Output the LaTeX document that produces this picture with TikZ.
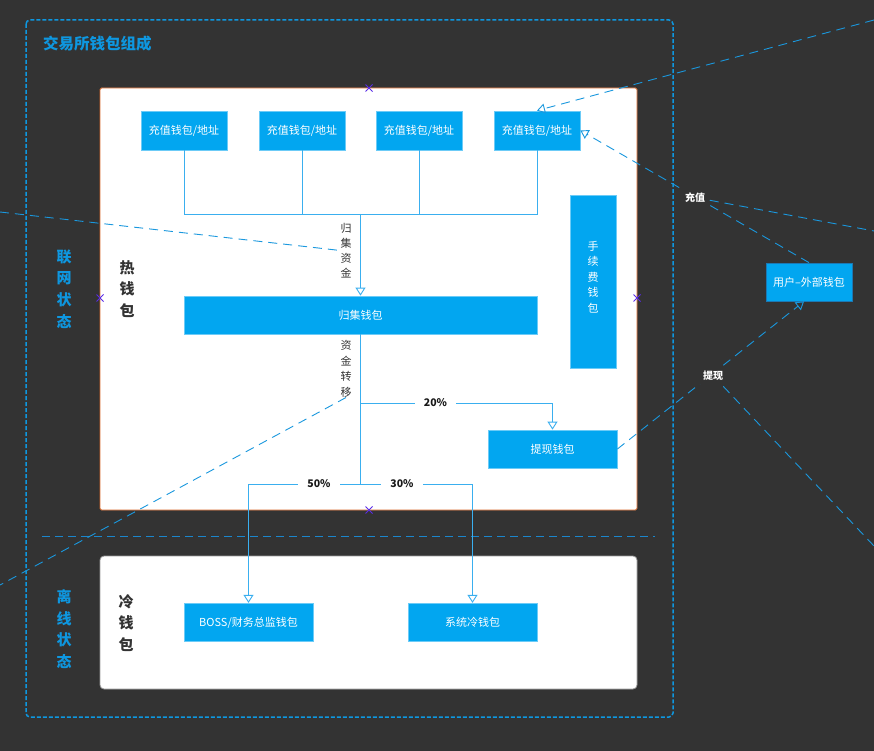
\documentclass[tikz,border=0pt]{standalone}
\usepackage{fontspec}
\setmainfont{Noto Sans CJK SC}
\usetikzlibrary{arrows.meta}
\definecolor{bg}{HTML}{333333}
\definecolor{boxfill}{HTML}{02A6F0}
\definecolor{boxline}{HTML}{6CCBF7}
\definecolor{conn}{HTML}{3AAFEF}
\definecolor{outer}{HTML}{0E97E0}
\definecolor{stray}{HTML}{1A98DE}
\definecolor{sep}{HTML}{1B86CC}
\definecolor{hotline}{HTML}{D8682A}
\definecolor{mark}{HTML}{5A2CE8}
\definecolor{darktext}{HTML}{333333}
\definecolor{userline}{HTML}{1B78B4}
\tikzset{
  wallet/.style={draw=boxline, fill=boxfill, text=white, line width=0.8pt, inner sep=0pt,
    font=\fontsize{11}{13}\selectfont},
  link/.style={draw=conn, line width=0.9pt},
  spine/.style={draw=conn, line width=1.9pt},
  opentip/.style={-{Triangle[open, length=8pt, width=10pt, line width=0.9pt]}},
  straydash/.style={draw=stray, line width=0.9pt, dash pattern=on 9pt off 6pt},
  vtext/.style={align=center, inner sep=0pt},
  pct/.style={fill=white, inner xsep=9pt, inner ysep=2pt, font=\fontsize{10.5}{12}\selectfont\bfseries, text=black!90},
  flowlbl/.style={fill=bg, text=white, inner sep=4pt, font=\fontsize{10}{12}\selectfont\bfseries},
  xmark/.style={draw=mark, line width=0.8pt}
}
\begin{document}
\begin{tikzpicture}[x=1pt,y=-1pt]
\useasboundingbox (0,0) rectangle (874,751);
\fill[bg] (0,0) rectangle (874,751);

% outer container
\draw[outer, line width=1.5pt, dash pattern=on 4pt off 2pt, rounded corners=4pt] (26,20) rectangle (673,717);
\node[anchor=west, text=outer, inner sep=0pt, font=\fontsize{15.5}{18}\selectfont\bfseries] (title) at (43,44) {交易所钱包组成};

% hot and cold wallet panels
\draw[hotline, fill=white, line width=0.8pt, rounded corners=1.5pt] (100,88) rectangle (637,510);
\draw[black!40, fill=white, line width=0.8pt, rounded corners=4pt] (100,556) rectangle (637,689);

% separator
\draw[sep, line width=1pt, dash pattern=on 8pt off 5pt] (42,536) -- (655,536);

% side labels
\node[vtext, text=outer, font=\fontsize{15}{21.7}\selectfont\bfseries] (online) at (64,289) {联\\网\\状\\态};
\node[vtext, text=outer, font=\fontsize{15}{21.7}\selectfont\bfseries] (offline) at (64,629) {离\\线\\状\\态};
\node[vtext, text=darktext, font=\fontsize{15}{21.5}\selectfont\bfseries] (hot) at (127,289) {热\\钱\\包};
\node[vtext, text=darktext, font=\fontsize{15}{21.5}\selectfont\bfseries] (cold) at (126,623) {冷\\钱\\包};

% wallets
\node[wallet, minimum width=86pt, minimum height=39pt] (b1) at (184,130.5) {充值钱包/地址};
\node[wallet, minimum width=86pt, minimum height=39pt] (b2) at (302,130.5) {充值钱包/地址};
\node[wallet, minimum width=86pt, minimum height=39pt] (b3) at (419,130.5) {充值钱包/地址};
\node[wallet, minimum width=86pt, minimum height=39pt] (b4) at (537,130.5) {充值钱包/地址};
\node[wallet, minimum width=353pt, minimum height=38pt] (gj) at (360.5,315) {归集钱包};
\node[wallet, minimum width=46pt, minimum height=173pt] (fee) at (593,281.5) {};
\node[vtext, text=white, font=\fontsize{11}{15.4}\selectfont] (feetxt) at (593,277) {手\\续\\费\\钱\\包};
\node[wallet, minimum width=129pt, minimum height=38pt] (tx) at (552.5,449) {提现钱包};
\node[wallet, minimum width=129pt, minimum height=38.5pt] (boss) at (248.5,622.5) {BOSS/财务总监钱包};
\node[wallet, minimum width=129pt, minimum height=38.5pt] (sys) at (472.5,622.5) {系统冷钱包};
\node[wallet, draw=userline, minimum width=86pt, minimum height=38pt] (user) at (809,282) {用户–外部钱包};

% collection connectors
\coordinate (j) at (360.5,214);
\draw[link] (b1.south) -- (b1.south |- j) -- (b4.south |- j) -- (b4.south);
\draw[link] (b2.south) -- (b2.south |- j);
\draw[link] (b3.south) -- (b3.south |- j);
\draw[spine, opentip] (j) -- (gj.north);
\node[vtext, text=darktext, font=\fontsize{11}{15}\selectfont] (gjzj) at (346,250.5) {归\\集\\资\\金};

% distribution connectors
\coordinate (k) at (360.5,484);
\coordinate (m) at (360.5,403);
\draw[spine] (gj.south) -- (k);
\draw[link, opentip] (m) -- (tx.north |- m) -- (tx.north);
\draw[link, opentip] (k) -- (boss.north |- k) -- (boss.north);
\draw[link, opentip] (k) -- (sys.north |- k) -- (sys.north);
\node[pct] (p20) at (435.5,403) {20\%};
\node[pct] (p50) at (319,484) {50\%};
\node[pct] (p30) at (402,484) {30\%};
\node[vtext, text=darktext, font=\fontsize{11}{15.5}\selectfont] (zjzy) at (346,369) {资\\金\\转\\移};

% stray dashed connectors
\coordinate (e1) at (874,20);
\coordinate (e2) at (874,231);
\coordinate (e3) at (0,212);
\coordinate (e4) at (0,585);
\coordinate (e5) at (874,546);
\coordinate (czpos) at (695,197.5);
\coordinate (txpos) at (713,375.5);
\draw[straydash, opentip] (e1) -- (b4.north);
\draw[straydash, opentip] (user.north) -- (b4.east);
\draw[straydash] (czpos) -- (e2);
\draw[straydash] (e3) -- (gjzj.west);
\draw[straydash] (zjzy.south) -- (e4);
\draw[straydash, opentip] (tx.east) -- ([xshift=-5pt]user.south);
\draw[straydash] (txpos) -- (e5);
\node[flowlbl] (cz) at (czpos) {充值};
\node[flowlbl] (txl) at (txpos) {提现};

% purple markers
\foreach \n/\px/\py in {m1/369/88, m2/100/298, m3/637/298, m4/369/510}{
  \coordinate (\n) at (\px,\py);
  \draw[xmark] ([shift={(-3.5,-3.5)}]\n) -- ([shift={(3.5,3.5)}]\n)
               ([shift={(-3.5,3.5)}]\n) -- ([shift={(3.5,-3.5)}]\n);
}
\end{tikzpicture}
\end{document}
